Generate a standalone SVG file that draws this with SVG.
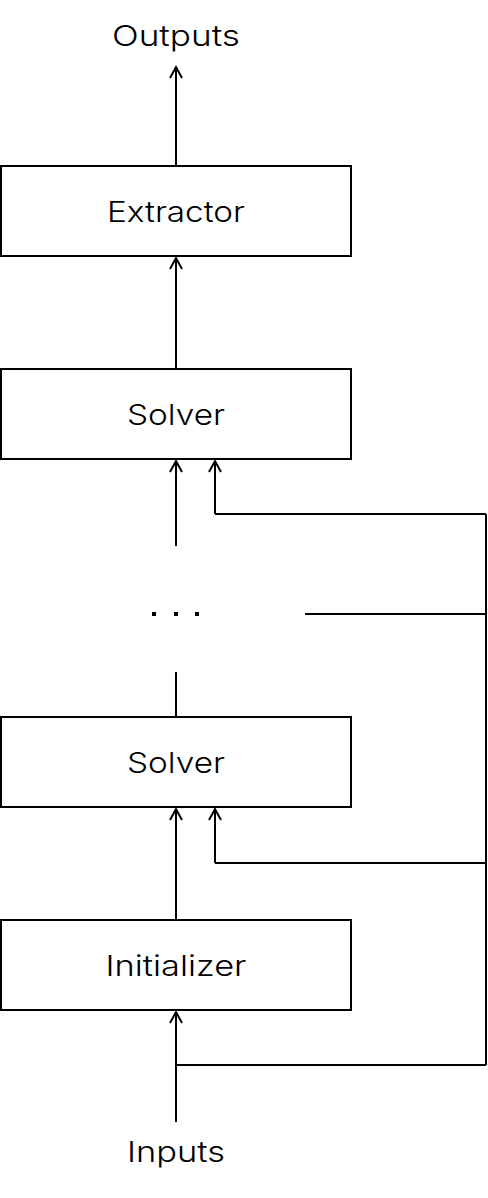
<svg xmlns="http://www.w3.org/2000/svg" width="488" height="1198" viewBox="0 0 488 1198">
<style>
.box{fill:#fff;stroke:#000;stroke-width:2}
.lbl{font-family:Inter,"Liberation Sans",Arial,sans-serif;font-weight:300;font-size:29px;fill:#000;text-anchor:middle}
.ln{fill:none;stroke:#000;stroke-width:2}
.dot{fill:#000}
</style>
<rect width="488" height="1198" fill="#fff"/>
<g id="connectors">
<path class="ln" d="M176,168 V67"/>
<path class="ln" d="M176,369 V258"/>
<path class="ln" d="M176,546 V461"/>
<path class="ln" d="M176,672 V717"/>
<path class="ln" d="M176,920 V809"/>
<path class="ln" d="M176,1122 V1012"/>
<path class="ln" d="M215,514 V461 M215,514 H486 M305,614 H486 M486,514 V1065 M215,863 V809 M215,863 H486 M176,1065 H486"/>
<path class="ln" d="M170,78 L176,67 L182,78 M170,269 L176,258 L182,269 M170,472 L176,461 L182,472 M209,472 L215,461 L221,472 M170,820 L176,809 L182,820 M209,820 L215,809 L221,820 M170,1023 L176,1012 L182,1023"/>
</g>
<g id="outputs"><text class="lbl" x="176" y="46" textLength="128" lengthAdjust="spacingAndGlyphs">Outputs</text></g>
<g id="extractor"><rect class="box" x="1" y="166" width="350" height="90"/><text class="lbl" x="176" y="222" textLength="138" lengthAdjust="spacingAndGlyphs">Extractor</text></g>
<g id="solver-top"><rect class="box" x="1" y="369" width="350" height="90"/><text class="lbl" x="176" y="425" textLength="98" lengthAdjust="spacingAndGlyphs">Solver</text></g>
<g id="ellipsis">
<rect class="dot" x="152" y="612" width="4" height="4"/><rect class="dot" x="174" y="612" width="4" height="4"/><rect class="dot" x="195" y="612" width="4" height="4"/>
</g>
<g id="solver-bottom"><rect class="box" x="1" y="717" width="350" height="90"/><text class="lbl" x="176" y="773" textLength="98" lengthAdjust="spacingAndGlyphs">Solver</text></g>
<g id="initializer"><rect class="box" x="1" y="920" width="350" height="90"/><text class="lbl" x="176" y="976" textLength="141" lengthAdjust="spacingAndGlyphs">Initializer</text></g>
<g id="inputs"><text class="lbl" x="176" y="1162" textLength="98" lengthAdjust="spacingAndGlyphs">Inputs</text></g>
</svg>
